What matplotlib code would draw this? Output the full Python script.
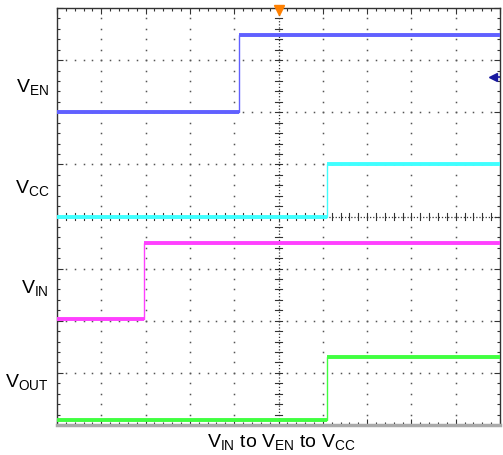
import numpy as np
import matplotlib.pyplot as plt

plt.rcParams['font.family'] = ['Liberation Sans', 'DejaVu Sans']
plt.rcParams['mathtext.fontset'] = 'custom'
plt.rcParams['mathtext.rm'] = 'Liberation Sans'
plt.rcParams['mathtext.it'] = 'Liberation Sans'

# scope traces, in screen divisions (10 x 8)
# each trace: switching time, low level, high level
names = ["VEN", "VCC", "VIN", "VOUT"]
t_step = [4.1, 6.1, 1.97, 6.1]
v_low = [6.0, 4.0, 2.03, 0.1]
v_high = [7.49, 5.0, 3.5, 1.3]
colors = ["#6060ff", "#40ffff", "#ff40ff", "#40ff40"]

labels = [r"$\mathrm{V_{EN}}$", r"$\mathrm{V_{CC}}$", r"$\mathrm{V_{IN}}$", r"$\mathrm{V_{OUT}}$"]
label_base_px = [92, 193, 293, 387]
xlabel = r"$\mathrm{V_{IN}}$ to $\mathrm{V_{EN}}$ to $\mathrm{V_{CC}}$"

W, H = 503, 455
fig = plt.figure(figsize=(W / 100, H / 100), dpi=100)
ax = fig.add_axes([57 / W, 30 / H, 443 / W, 417 / H])
ax.set_xlim(0, 10)
ax.set_ylim(0, 8)

# dotted graticule
minor_x = np.arange(0, 10.01, 0.2)
minor_y = np.arange(0, 8.01, 0.2)
for gx in range(1, 10):
    if gx == 5:
        continue
    ax.plot(np.full_like(minor_y, gx), minor_y, ls='none', marker='s', ms=1.1,
            color='#555555', mew=0)
for gy in range(1, 8):
    if gy == 4:
        continue
    ax.plot(minor_x, np.full_like(minor_x, gy), ls='none', marker='s', ms=1.1,
            color='#555555', mew=0)

# centre axes with ticks
ax.axvline(5, color='#333333', lw=0.9, ls=(0, (1, 1.5)))
ax.axhline(4, color='#333333', lw=0.9, ls=(0, (1, 1.5)))
for y in minor_y:
    ax.plot([4.93, 5.07], [y, y], color='#333333', lw=0.8)
for x in minor_x:
    ax.plot([x, x], [3.93, 4.07], color='#333333', lw=0.8)

# traces
for t, lo, hi, c in zip(t_step, v_low, v_high, colors):
    ax.plot([0, t, t, 10], [lo, lo, hi, hi], color=c, lw=1.0, zorder=3)
    ax.hlines([lo, hi], [0, t], [t, 10], color=c, lw=2.8, zorder=3)

# markers: trigger position and trigger level
ax.plot(5, 7.97, marker='v', ms=7, color='#ff8000', clip_on=False, zorder=5)
ax.plot(9.85, 6.68, marker='<', ms=6, color='#1a1aa0', clip_on=False, zorder=5)
ax.plot([9.85, 10], [6.68, 6.68], color='#1a1aa0', lw=1.2, zorder=5)

ax.set_xticks(range(0, 11))
ax.set_yticks(range(0, 9))
ax.set_xticks(minor_x, minor=True)
ax.set_yticks(minor_y, minor=True)
ax.tick_params(which='both', direction='in', top=True, right=True,
               labelbottom=False, labelleft=False, color='#333333')
ax.tick_params(which='major', length=4, width=0.8)
ax.tick_params(which='minor', length=2.5, width=0.8)
for s in ['top', 'left', 'right']:
    ax.spines[s].set_color('#333333')
    ax.spines[s].set_linewidth(1.0)
ax.spines['bottom'].set_color('#aaaaaa')
ax.spines['bottom'].set_linewidth(2.5)

for lab, yb in zip(labels, label_base_px):
    fig.text(49 / W, 1 - yb / H, lab, ha='right', va='baseline', fontsize=14)
fig.text(281 / W, 1 - 447 / H, xlabel, ha='center', va='baseline', fontsize=14)

fig.savefig("out.png", dpi=100)
